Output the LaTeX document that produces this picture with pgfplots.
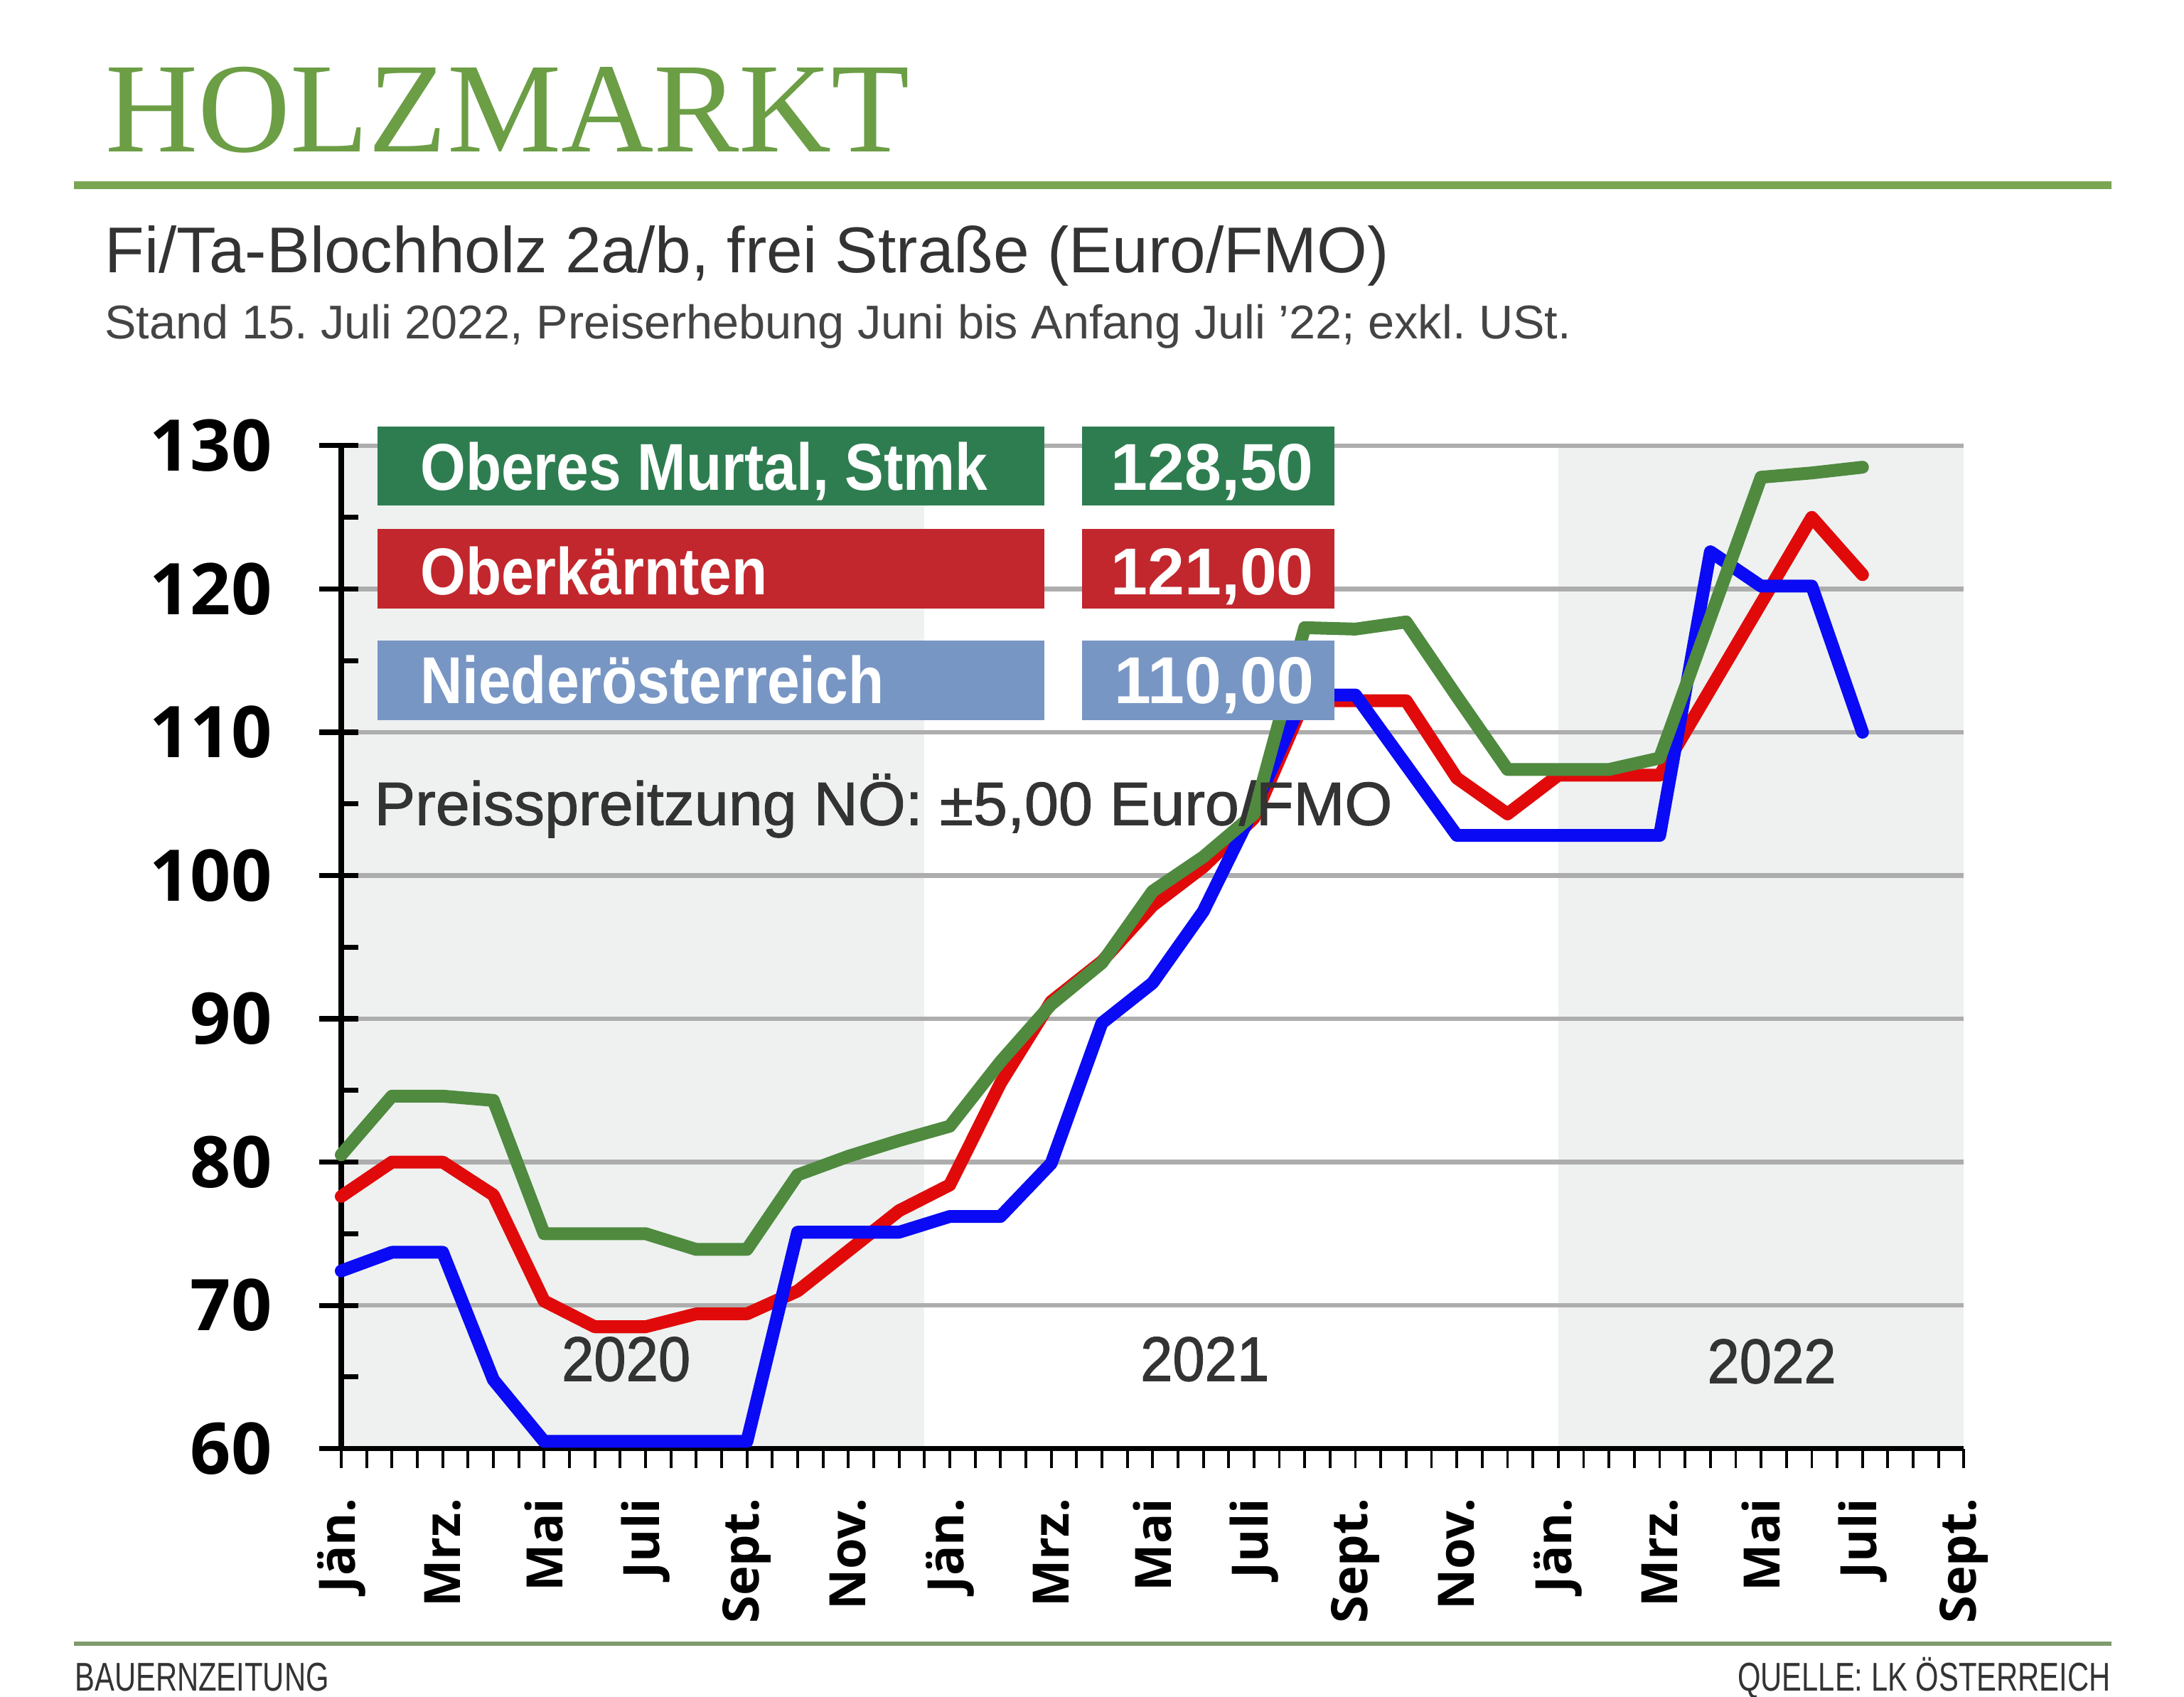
\documentclass[border=0pt]{standalone}
\usepackage{fontspec}
\usepackage{pgfplots}
\pgfplotsset{compat=1.18}
\setmainfont{Liberation Sans}
\newfontfamily\titlefont{Liberation Serif}
\newfontfamily\tickfont{Open Sans}
\newfontfamily\condfont{Liberation Sans}[FakeStretch=0.88]
\newfontfamily\medfont{Liberation Sans}[FakeBold=1.2]
\newfontfamily\yearfont{Liberation Sans}[FakeStretch=0.92, FakeBold=1.2]
\newfontfamily\footfont{Liberation Sans}[FakeStretch=0.74]
\frenchspacing

\definecolor{titlegreen}{HTML}{6C9E45}
\definecolor{rulegreen}{HTML}{7AA654}
\definecolor{footrule}{HTML}{7E9B6C}
\definecolor{txt}{HTML}{333333}
\definecolor{txtb}{HTML}{444444}
\definecolor{band}{HTML}{EEF1F0}
\definecolor{gridc}{HTML}{ADADAD}
\definecolor{lgreen}{HTML}{4F8A3F}
\definecolor{lred}{HTML}{E10A0A}
\definecolor{lblue}{HTML}{0A0AF5}
\definecolor{bgreen}{HTML}{2E7D50}
\definecolor{bred}{HTML}{C1272D}
\definecolor{bblue}{HTML}{7896C4}

\pgfplotstableread{
m v
0 80.5
1 84.6
2 84.6
3 84.3
4 75.0
5 75.0
6 75.0
7 73.9
8 73.9
9 79.1
10 80.4
11 81.5
12 82.5
13 87.0
14 91.0
15 93.9
16 98.9
17 101.3
18 104.3
19 117.3
20 117.2
21 117.7
22 112.5
23 107.4
24 107.4
25 107.4
26 108.2
28 127.8
29 128.1
30 128.5
}\murtal

\pgfplotstableread{
m v
0 77.6
1 80.0
2 80.0
3 77.7
4 70.3
5 68.5
6 68.5
7 69.4
8 69.4
9 71.0
10 73.8
11 76.6
12 78.4
13 85.5
14 91.2
15 94.0
16 97.9
17 100.6
18 104.0
19 112.2
20 112.2
21 112.2
22 106.8
23 104.3
24 107.0
25 107.0
26 107.0
29 125.0
30 121.0
}\kaernten

\pgfplotstableread{
m v
0 72.4
1 73.7
2 73.7
3 64.8
4 60.5
5 60.5
6 60.5
7 60.5
8 60.5
9 75.1
10 75.1
11 75.1
12 76.2
13 76.2
14 79.9
15 89.7
16 92.5
17 97.5
18 104.7
19 112.6
20 112.6
21 107.7
22 102.8
23 102.8
24 102.8
25 102.8
26 102.8
27 122.6
28 120.2
29 120.2
30 110.0
}\noe

\begin{document}
\begin{tikzpicture}
\useasboundingbox (0,0) rectangle (392pt,304.575pt);
% background axis: bands, grid, y axis
\begin{axis}[
  at={(61.25pt,44.575pt)}, anchor=south west,
  scale only axis, width=291.25pt, height=180pt,
  xmin=0, xmax=32, ymin=60, ymax=130,
  axis x line=none, axis y line=left,
  axis line style={-, line width=1pt, black},
  axis on top,
  xtick=\empty,
  ytick={60,70,...,130}, minor y tick num=1,
  tick align=inside, major tick length=7pt, minor tick length=3pt,
  major tick style={xshift=-4pt, line width=0.9pt, black},
  minor tick style={line width=0.9pt, black},
  ymajorgrids, major grid style={gridc, line width=0.8pt},
  yticklabel style={font=\tickfont\bfseries\fontsize{12.8}{12.8}\selectfont, inner sep=0pt, anchor=east},
  yticklabel shift=12.25pt,
  /pgf/number format/assume math mode=true,
]
\fill[band] (axis cs:0,60) rectangle (axis cs:11.5,130);
\fill[band] (axis cs:24,60) rectangle (axis cs:32,130);
\end{axis}
% data axis
\begin{axis}[
  at={(61.25pt,44.575pt)}, anchor=south west,
  scale only axis, width=291.25pt, height=180pt,
  xmin=0, xmax=32, ymin=60, ymax=130,
  axis x line=bottom, axis y line=none,
  axis line style={-, line width=0.8pt, black},
  xtick={0,2,...,32}, minor x tick num=3,
  xticklabels={Jän.,Mrz.,Mai,Juli,Sept.,Nov.,Jän.,Mrz.,Mai,Juli,Sept.,Nov.,Jän.,Mrz.,Mai,Juli,Sept.},
  tick align=outside, major tick length=3.5pt, minor tick length=3.5pt,
  tick style={line width=0.5pt, black},
  xticklabel style={font=\tickfont\bfseries\fontsize{9}{9}\selectfont, rotate=90, anchor=east, inner sep=0pt},
  xticklabel shift=5.25pt,
  ytick=\empty,
  clip=false,
]
\addplot[lred, line width=2.3pt, line join=round, line cap=round] table[x=m,y=v] {\kaernten};
\addplot[lblue, line width=2.3pt, line join=round, line cap=round] table[x=m,y=v] {\noe};
\addplot[lgreen, line width=2.3pt, line join=round, line cap=round] table[x=m,y=v] {\murtal};
\end{axis}
% overlay in reference pixel units
\begin{scope}[x=0.25pt, y=-0.25pt, yshift=304.575pt]
\node[anchor=base west, inner sep=0pt, text=titlegreen, font=\titlefont\fontsize{23}{23}\selectfont] at (75,109) {HOLZMARKT};
\draw[rulegreen, line width=1.4pt] (53,133) -- (1516,133);
\node[anchor=base west, inner sep=0pt, text=txt, font=\fontsize{11.62}{11.62}\selectfont] at (74.5,195.6) {Fi/Ta-Blochholz 2a/b, frei Straße (Euro/FMO)};
\node[anchor=base west, inner sep=0pt, text=txtb, font=\fontsize{8.5}{8.5}\selectfont] at (74.5,243) {Stand 15. Juli 2022, Preiserhebung Juni bis Anfang Juli ’22; exkl. USt.};
% legend boxes
\fill[bgreen] (271,306) rectangle (750,363);
\fill[bgreen] (777,306) rectangle (958,363);
\fill[bred] (271,380) rectangle (750,437);
\fill[bred] (777,380) rectangle (958,437);
\fill[bblue] (271,460) rectangle (750,517);
\fill[bblue] (777,460) rectangle (958,517);
\node[anchor=base west, inner sep=0pt, text=white, font=\condfont\bfseries\fontsize{11.9}{11.9}\selectfont] at (301,352) {Oberes Murtal, Stmk};
\node[anchor=base west, inner sep=0pt, text=white, font=\condfont\bfseries\fontsize{11.9}{11.9}\selectfont] at (301,427) {Oberkärnten};
\node[anchor=base west, inner sep=0pt, text=white, font=\condfont\bfseries\fontsize{11.9}{11.9}\selectfont] at (301,505) {Niederösterreich};
\node[anchor=base east, inner sep=0pt, text=white, font=\bfseries\fontsize{11.9}{11.9}\selectfont] at (944,352) {128,50};
\node[anchor=base east, inner sep=0pt, text=white, font=\bfseries\fontsize{11.9}{11.9}\selectfont] at (944,427) {121,00};
\node[anchor=base east, inner sep=0pt, text=white, font=\bfseries\fontsize{11.9}{11.9}\selectfont] at (944,505) {110,00};
\node[anchor=base west, inner sep=0pt, text=txt, font=\medfont\fontsize{11}{11}\selectfont] at (268,592.3) {Preisspreitzung NÖ: ±5,00 Euro/FMO};
% year labels
\node[anchor=base, inner sep=0pt, text=txt, font=\yearfont\fontsize{11.3}{11.3}\selectfont] at (449.5,991.4) {2020};
\node[anchor=base, inner sep=0pt, text=txt, font=\yearfont\fontsize{11.3}{11.3}\selectfont] at (865,991.4) {2021};
\node[anchor=base, inner sep=0pt, text=txt, font=\yearfont\fontsize{11.3}{11.3}\selectfont] at (1272,993) {2022};
% footer
\draw[footrule, line width=0.75pt] (53,1180) -- (1516,1180);
\node[anchor=base west, inner sep=0pt, text=txt, font=\footfont\fontsize{7.2}{7.2}\selectfont] at (53,1214) {BAUERNZEITUNG};
\node[anchor=base east, inner sep=0pt, text=txt, font=\footfont\fontsize{7.2}{7.2}\selectfont] at (1516,1214) {QUELLE: LK ÖSTERREICH};
\end{scope}
\end{tikzpicture}
\end{document}
